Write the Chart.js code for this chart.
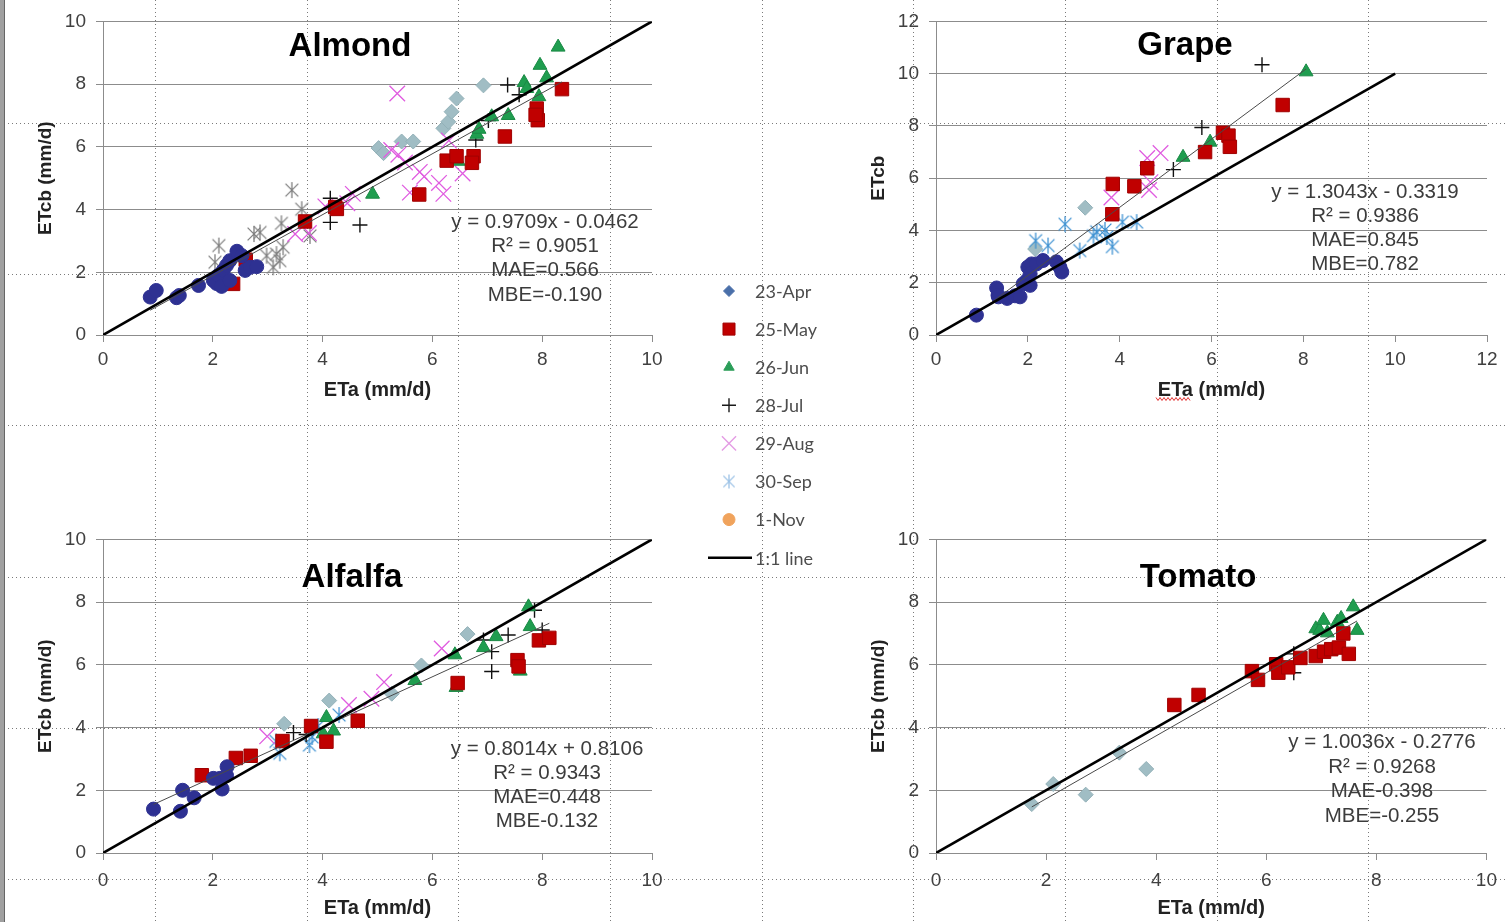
<!DOCTYPE html>
<html>
<head>
<meta charset="utf-8">
<title>ETcb vs ETa</title>
<script src="https://cdn.jsdelivr.net/npm/chart.js@4.4.1/dist/chart.umd.min.js"></script>
<style>
  html, body { margin: 0; padding: 0; background: #fff; }
  #page { position: relative; width: 1506px; height: 922px; overflow: hidden; background: #fff; }
  .guide-h { position: absolute; left: 0; width: 1506px; height: 1px;
    background-image: repeating-linear-gradient(to right, #7a7a7a 0 1px, transparent 1px 4px); }
  .guide-v { position: absolute; top: 0; width: 1px; height: 922px;
    background-image: repeating-linear-gradient(to bottom, #7a7a7a 0 1px, transparent 1px 4px); }
  #edge { position: absolute; left: 0; top: 0; width: 4px; height: 922px; background: #a0a0a0; border-right: 1px solid #666; }
  canvas { position: absolute; }
</style>
</head>
<body>
<div id="page">
  <div id="edge"></div>
  <canvas id="almond" width="680" height="410" style="left:0;top:0"></canvas>
  <canvas id="grape" width="666" height="410" style="left:840px;top:0"></canvas>
  <canvas id="alfalfa" width="680" height="404" style="left:0;top:518px"></canvas>
  <canvas id="tomato" width="666" height="404" style="left:840px;top:518px"></canvas>
  <canvas id="legend" width="140" height="300" style="left:700px;top:270px"></canvas>
</div>
<script>
// ---- data: [ETa, ETcb] pairs per sampling date ----
const almondApr = [[5.02,5.96],[5.11,5.80],[5.44,6.17],[5.65,6.17],[6.20,6.59],[6.29,6.80],[6.35,7.12],[6.44,7.54],[6.93,7.96]];
const almondMay = [[2.37,1.63],[2.60,2.40],[3.68,3.62],[4.23,4.08],[4.26,4.02],[5.76,4.48],[6.26,5.56],[6.44,5.70],[6.75,5.70],[6.72,5.49],[7.32,6.33],[7.90,7.22],[7.92,6.85],[7.88,7.02],[8.36,7.84]];
const almondJun = [[4.91,4.49],[6.47,5.54],[6.81,6.40],[6.85,6.56],[7.08,6.96],[7.38,7.00],[7.67,8.05],[7.72,7.86],[7.94,7.60],[7.96,8.60],[8.08,8.20],[8.29,9.18]];
const almondJul = [[4.14,4.36],[4.14,3.59],[4.68,3.51],[6.79,6.22],[7.02,6.84],[7.37,7.97],[7.58,7.66]];
const almondAug = [[3.50,3.22],[3.75,3.25],[4.05,4.10],[4.45,4.20],[4.55,4.50],[5.25,5.90],[5.38,5.75],[5.50,5.50],[5.36,7.70],[5.59,4.54],[5.77,5.20],[5.85,5.05],[6.12,4.85],[6.20,4.50],[6.30,6.20],[6.55,5.15]];
const almondSep = [[2.04,2.32],[2.11,2.85],[2.75,3.22],[2.86,3.27],[2.98,2.53],[3.10,2.16],[3.16,2.58],[3.22,2.37],[3.25,3.56],[3.28,2.80],[3.44,4.62],[3.62,4.01],[3.77,3.16]];
const almondNov = [[0.86,1.21],[0.97,1.42],[1.34,1.19],[1.39,1.26],[1.74,1.58],[2.01,1.74],[2.07,1.64],[2.10,1.90],[2.16,1.55],[2.19,2.06],[2.25,2.22],[2.31,2.37],[2.31,1.74],[2.44,2.67],[2.53,2.53],[2.59,2.06],[2.68,2.16],[2.80,2.18]];

const grapeApr = [[2.16,3.29],[3.25,4.87]];
const grapeMay = [[3.85,5.78],[3.84,4.62],[4.32,5.69],[4.60,6.38],[5.86,7.00],[6.25,7.74],[6.37,7.63],[6.40,7.20],[7.55,8.80]];
const grapeJun = [[5.38,6.80],[5.97,7.38],[8.06,10.07]];
const grapeJul = [[5.17,6.33],[5.79,7.94],[7.10,10.34]];
const grapeAug = [[3.82,5.26],[4.60,6.77],[4.89,6.96],[4.64,5.55],[4.67,5.85]];
const grapeSep = [[2.17,3.61],[2.44,3.42],[2.81,4.24],[3.13,3.23],[3.43,3.80],[3.50,3.95],[3.68,4.02],[3.72,3.75],[3.84,3.38],[4.06,4.32],[4.37,4.32]];
const grapeNov = [[0.88,0.76],[1.32,1.80],[1.35,1.52],[1.36,1.46],[1.55,1.40],[1.72,1.50],[1.83,1.46],[1.90,1.96],[1.98,2.09],[2.05,1.90],[2.00,2.60],[2.08,2.72],[2.05,2.34],[2.19,2.72],[2.33,2.85],[2.62,2.80],[2.70,2.59],[2.74,2.41]];

const alfalfaApr = [[3.30,4.12],[4.12,4.86],[5.26,5.08],[5.80,5.98],[6.64,6.98]];
const alfalfaMay = [[1.80,2.48],[2.42,3.03],[2.69,3.10],[3.27,3.57],[3.79,4.05],[4.07,3.55],[4.64,4.22],[6.46,5.42],[7.55,6.15],[7.57,5.95],[7.94,6.78],[8.13,6.86]];
const alfalfaJun = [[4.07,4.32],[4.20,3.89],[4.01,3.80],[5.68,5.50],[6.41,6.32],[6.43,5.28],[6.93,6.55],[7.16,6.90],[7.60,5.80],[7.75,7.85],[7.78,7.22]];
const alfalfaJul = [[3.47,3.84],[3.70,3.78],[6.93,6.79],[7.08,6.42],[7.08,5.79],[7.38,6.95],[7.86,7.74],[8.00,7.11]];
const alfalfaAug = [[2.99,3.72],[4.48,4.72],[4.89,4.92],[5.12,5.45],[6.17,6.52]];
const alfalfaSep = [[3.22,3.18],[3.15,3.56],[3.76,3.44],[3.81,3.70],[3.92,4.05],[4.30,4.40]];
const alfalfaNov = [[0.92,1.40],[1.41,1.33],[1.45,2.00],[1.66,1.76],[2.01,2.38],[2.13,2.38],[2.17,2.04],[2.25,2.47],[2.26,2.75]];

const tomatoApr = [[1.74,1.56],[2.13,2.20],[2.72,1.86],[3.33,3.20],[3.82,2.68]];
const tomatoMay = [[4.33,4.72],[4.77,5.04],[5.74,5.80],[5.85,5.52],[6.18,6.02],[6.22,5.75],[6.40,5.92],[6.62,6.22],[6.90,6.28],[7.05,6.42],[7.18,6.50],[7.32,6.55],[7.40,7.00],[7.50,6.35]];
const tomatoJun = [[6.90,7.15],[6.97,7.10],[7.04,7.42],[7.11,7.02],[7.29,7.36],[7.36,7.48],[7.58,7.85],[7.65,7.10]];
const tomatoJul = [[6.50,6.35],[6.50,5.75]];

// regression [slope, intercept] and the ETa span it is drawn over
const almondFit = [0.9709, -0.0462];   const almondFitRange = [0.86, 8.36];
const grapeFit = [1.3043, -0.3319];    const grapeFitRange = [0.88, 8.06];
const alfalfaFit = [0.8014, 0.8106];   const alfalfaFitRange = [0.92, 8.13];
const tomatoFit = [1.0036, -0.2776];   const tomatoFitRange = [1.74, 7.65];

const almondStats = ['y = 0.9709x - 0.0462', 'R\u00b2 = 0.9051', 'MAE=0.566', 'MBE=-0.190'];
const grapeStats = ['y = 1.3043x - 0.3319', 'R\u00b2 = 0.9386', 'MAE=0.845', 'MBE=0.782'];
const alfalfaStats = ['y = 0.8014x + 0.8106', 'R\u00b2 = 0.9343', 'MAE=0.448', 'MBE-0.132'];
const tomatoStats = ['y = 1.0036x - 0.2776', 'R\u00b2 = 0.9268', 'MAE-0.398', 'MBE=-0.255'];

const oneToOne = [0, 10];
const axisTicks10 = [0, 10];
const axisTicks12 = [0, 12];

const legendLabels = ['23-Apr', '25-May', '26-Jun', '28-Jul', '29-Aug', '30-Sep', '1-Nov', '1:1 line'];

// ---- page furniture: drawing-grid guides behind the charts ----
const page = document.getElementById('page');
[155, 307, 458, 610, 762, 913, 1065, 1217, 1368].forEach(x => {
  const d = document.createElement('div');
  d.className = 'guide-v'; d.style.left = x + 'px';
  page.insertBefore(d, page.firstChild);
});
[123, 274, 425, 577, 728, 879].forEach(y => {
  const d = document.createElement('div');
  d.className = 'guide-h'; d.style.top = y + 'px';
  page.insertBefore(d, page.firstChild);
});

Chart.defaults.font.family = '"Liberation Sans", Arial, sans-serif';
Chart.defaults.animation = false;

const GRID = '#8c8c8c';
const FONT = '"Liberation Sans", Arial, sans-serif';

// Excel-style asterisk marker: an X with a vertical stroke
function makeAsterisk(color, r) {
  const c = document.createElement('canvas');
  const s = Math.ceil(r * 2 + 4);
  c.width = s; c.height = s;
  const g = c.getContext('2d');
  const m = s / 2, d = r * 0.8;
  g.strokeStyle = color;
  g.lineWidth = 1.3;
  g.beginPath();
  g.moveTo(m, m - r); g.lineTo(m, m + r);
  g.moveTo(m - d, m - d); g.lineTo(m + d, m + d);
  g.moveTo(m - d, m + d); g.lineTo(m + d, m - d);
  g.stroke();
  return c;
}

const pts = arr => arr.map(p => ({x: p[0], y: p[1]}));

function markers(label, arr, style) {
  return Object.assign({label: label, data: pts(arr), showLine: false}, style);
}

const styleApr = {pointStyle: 'rectRot', pointRadius: 7.5, backgroundColor: '#a0bdc4', borderColor: '#93b1b8', borderWidth: 1, order: 7};
const styleMay = {pointStyle: 'rect', pointRadius: 9.5, backgroundColor: '#c00000', borderColor: '#a00000', borderWidth: 1, order: 2};
const styleJun = {pointStyle: 'triangle', pointRadius: 8, backgroundColor: '#1f9d4f', borderColor: '#1a8a45', borderWidth: 1, order: 3};
const styleJul = {pointStyle: 'cross', pointRadius: 7.5, borderColor: '#111', borderWidth: 1.4, order: 4};
const styleAug = {pointStyle: 'crossRot', pointRadius: 11, borderColor: '#e05ce0', borderWidth: 1.3, order: 5};
const styleNov = {pointStyle: 'circle', pointRadius: 7, backgroundColor: '#2e3192', borderColor: '#2e3192', borderWidth: 1, order: 1};

function fitLine(fit, range) {
  return {
    label: 'Linear', data: range.map(x => ({x: x, y: fit[0] * x + fit[1]})),
    showLine: true, pointRadius: 0, borderColor: '#4a4a4a', borderWidth: 1, order: 0
  };
}

function unityLine() {
  return {
    label: '1:1 line', data: oneToOne.map(v => ({x: v, y: v})),
    showLine: true, pointRadius: 0, borderColor: '#000', borderWidth: 2.6, order: 0
  };
}

// crop name and fit statistics drawn inside the plot area
const panelText = {
  id: 'panelText',
  afterDatasetsDraw(chart, args, o) {
    const ctx = chart.ctx;
    ctx.save();
    ctx.textAlign = 'center';
    ctx.textBaseline = 'alphabetic';
    ctx.fillStyle = '#000';
    ctx.font = 'bold 33px ' + FONT;
    ctx.fillText(o.title, o.titleX, o.titleY);
    ctx.fillStyle = '#3c3c3c';
    ctx.font = '20.5px ' + FONT;
    o.lines.forEach((t, i) => ctx.fillText(t, o.linesX, o.linesY + i * o.gap));
    if (o.squiggle) {
      const [x1, x2, y] = o.squiggle;
      ctx.strokeStyle = '#e03030';
      ctx.lineWidth = 1;
      ctx.beginPath();
      for (let x = x1, k = 0; x <= x2; x += 2, k++) {
        const yy = y + (k % 2 ? 1.5 : -1.5);
        if (k === 0) ctx.moveTo(x, yy); else ctx.lineTo(x, yy);
      }
      ctx.stroke();
    }
    ctx.restore();
  }
};

function panel(id, o) {
  const datasets = [unityLine(), fitLine(o.fit, o.fitRange)];
  if (o.apr) datasets.push(markers('23-Apr', o.apr, styleApr));
  if (o.may) datasets.push(markers('25-May', o.may, styleMay));
  if (o.jun) datasets.push(markers('26-Jun', o.jun, styleJun));
  if (o.jul) datasets.push(markers('28-Jul', o.jul, styleJul));
  if (o.aug) datasets.push(markers('29-Aug', o.aug, styleAug));
  if (o.sep) datasets.push(markers('30-Sep', o.sep, {pointStyle: makeAsterisk(o.sepColor, 8), pointRadius: 8, borderColor: o.sepColor, order: 6}));
  if (o.nov) datasets.push(markers('1-Nov', o.nov, styleNov));

  return new Chart(document.getElementById(id), {
    type: 'scatter',
    data: {datasets: datasets},
    options: {
      responsive: false,
      animation: false,
      layout: {padding: o.padding},
      plugins: {
        legend: {display: false},
        tooltip: {enabled: false},
        panelText: o.text
      },
      scales: {
        x: {
          type: 'linear', min: o.range[0], max: o.range[1],
          ticks: {stepSize: 2, color: '#404040', font: {size: 19}, padding: o.xTickPad, maxRotation: 0},
          grid: {drawOnChartArea: false, drawTicks: true, tickLength: 7, color: GRID},
          border: {color: GRID, width: 1},
          title: {display: true, text: 'ETa (mm/d)', color: '#222', font: {size: 20, weight: 'bold'}, padding: 0},
          afterFit: s => { s.height = 67; }
        },
        y: {
          type: 'linear', min: o.range[0], max: o.range[1],
          ticks: {stepSize: 2, color: '#404040', font: {size: 19}, padding: 10},
          grid: {color: GRID, lineWidth: 1, drawTicks: true, tickLength: 7},
          border: {color: GRID, width: 1},
          title: {display: true, text: o.yTitle, color: '#222', font: {size: 19, weight: 'bold'}, padding: 0},
          afterFit: s => { s.width = o.yWidth; }
        }
      }
    },
    plugins: [panelText]
  });
}

panel('almond', {
  range: axisTicks10, fit: almondFit, fitRange: almondFitRange,
  apr: almondApr, may: almondMay, jun: almondJun, jul: almondJul, aug: almondAug,
  sep: almondSep, sepColor: '#7f7f7f', nov: almondNov,
  yTitle: 'ETcb (mm/d)', yWidth: 69, xTickPad: 6,
  padding: {left: 34, top: 19, right: 28, bottom: 8},
  text: {title: 'Almond', titleX: 350, titleY: 56, lines: almondStats, linesX: 545, linesY: 228, gap: 24.2}
});

panel('grape', {
  range: axisTicks12, fit: grapeFit, fitRange: grapeFitRange,
  apr: grapeApr, may: grapeMay, jun: grapeJun, jul: grapeJul, aug: grapeAug,
  sep: grapeSep, sepColor: '#3f92d2', nov: grapeNov,
  yTitle: 'ETcb', yWidth: 69, xTickPad: 6,
  padding: {left: 27, top: 19, right: 19, bottom: 8},
  text: {title: 'Grape', titleX: 345, titleY: 55, lines: grapeStats, linesX: 525, linesY: 198, gap: 24,
         squiggle: [316, 350, 399]}
});

panel('alfalfa', {
  range: axisTicks10, fit: alfalfaFit, fitRange: alfalfaFitRange,
  apr: alfalfaApr, may: alfalfaMay, jun: alfalfaJun, jul: alfalfaJul, aug: alfalfaAug,
  sep: alfalfaSep, sepColor: '#3f92d2', nov: alfalfaNov,
  yTitle: 'ETcb (mm/d)', yWidth: 69, xTickPad: 9,
  padding: {left: 34, top: 19, right: 28, bottom: 2},
  text: {title: 'Alfalfa', titleX: 352, titleY: 69, lines: alfalfaStats, linesX: 547, linesY: 237, gap: 24}
});

panel('tomato', {
  range: axisTicks10, fit: tomatoFit, fitRange: tomatoFitRange,
  apr: tomatoApr, may: tomatoMay, jun: tomatoJun, jul: tomatoJul,
  yTitle: 'ETcb (mm/d)', yWidth: 69, xTickPad: 9,
  padding: {left: 27, top: 19, right: 19, bottom: 2},
  text: {title: 'Tomato', titleX: 358, titleY: 69, lines: tomatoStats, linesX: 542, linesY: 230, gap: 24.5}
});

// ---- shared legend, markers drawn with Chart.js point helpers ----
const legendStyles = [
  {pointStyle: 'rectRot', radius: 5.5, fill: '#4a6fa9', stroke: '#4a6fa9', borderWidth: 1},
  {pointStyle: 'rect', radius: 8.5, fill: '#c00000', stroke: '#a00000', borderWidth: 1},
  {pointStyle: 'triangle', radius: 6, fill: '#2a9d58', stroke: '#2a9d58', borderWidth: 1},
  {pointStyle: 'cross', radius: 7, fill: '#1a1a1a', stroke: '#1a1a1a', borderWidth: 1.4},
  {pointStyle: 'crossRot', radius: 10, fill: '#e49ce4', stroke: '#e49ce4', borderWidth: 1.4},
  {pointStyle: makeAsterisk('#9cc2e6', 7), radius: 7, fill: '#9cc2e6', stroke: '#9cc2e6', borderWidth: 1},
  {pointStyle: 'circle', radius: 6, fill: '#f0a35c', stroke: '#f0a35c', borderWidth: 1},
  {pointStyle: 'line', radius: 22, fill: '#000', stroke: '#000', borderWidth: 2.6}
];

const sideLegend = {
  id: 'sideLegend',
  afterDraw(chart) {
    const ctx = chart.ctx;
    const drawPoint = Chart.helpers && Chart.helpers.drawPoint;
    ctx.save();
    ctx.font = '18px Lato, "Open Sans", sans-serif';
    ctx.textBaseline = 'middle';
    ctx.textAlign = 'left';
    legendLabels.forEach((label, i) => {
      const y = 21 + i * 38.1;
      const st = legendStyles[i];
      const cx = st.pointStyle === 'line' ? 30 : 29;
      ctx.fillStyle = st.fill;
      ctx.strokeStyle = st.stroke;
      ctx.lineWidth = st.borderWidth;
      if (drawPoint) {
        drawPoint(ctx, {pointStyle: st.pointStyle, radius: st.radius, borderWidth: st.borderWidth, rotation: 0}, cx, y);
      }
      ctx.fillStyle = '#4d4d4d';
      ctx.fillText(label, 55, y + 1);
    });
    ctx.restore();
  }
};

new Chart(document.getElementById('legend'), {
  type: 'scatter',
  data: {datasets: []},
  options: {
    responsive: false,
    animation: false,
    plugins: {legend: {display: false}, tooltip: {enabled: false}},
    scales: {x: {display: false}, y: {display: false}}
  },
  plugins: [sideLegend]
});
</script>
</body>
</html>
